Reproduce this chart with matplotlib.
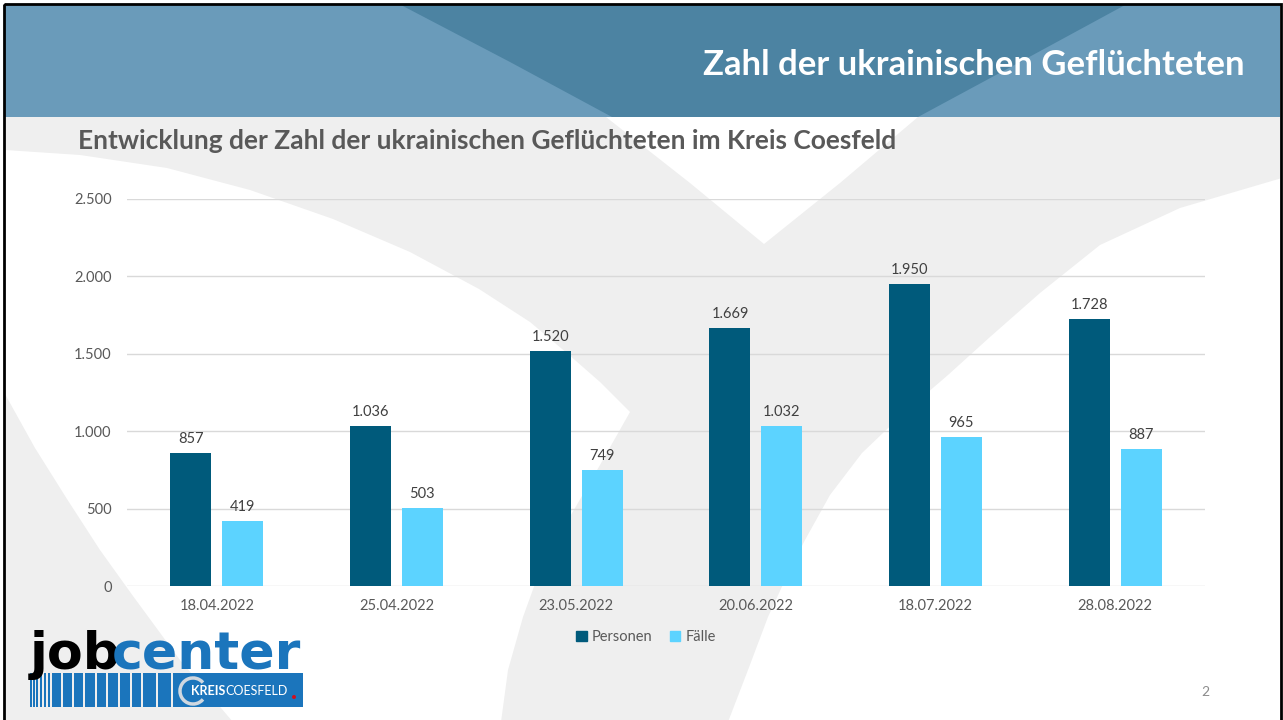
import matplotlib
matplotlib.use("Agg")
import matplotlib.pyplot as plt
from matplotlib.patches import Polygon, Rectangle, Patch, Arc, Circle
import numpy as np

# chart data
dates = ["18.04.2022", "25.04.2022", "23.05.2022", "20.06.2022", "18.07.2022", "28.08.2022"]
personen = [857, 1036, 1520, 1669, 1950, 1728]
faelle = [419, 503, 749, 1032, 965, 887]
y_ticks = [0, 500, 1000, 1500, 2000, 2500]
y_tick_labels = ["0", "500", "1.000", "1.500", "2.000", "2.500"]

header_title = "Zahl der ukrainischen Geflüchteten"
chart_title = "Entwicklung der Zahl der ukrainischen Geflüchteten im Kreis Coesfeld"

C_PERS = "#005A7B"
C_FAEL = "#5CD3FF"
C_HEAD_LIGHT = "#6A9BBA"
C_HEAD_DARK = "#4C83A2"
C_BG_GRAY = "#EFEFEF"
C_LOGO = "#1B75BC"

W, H = 1283, 720
fig = plt.figure(figsize=(W / 100, H / 100), dpi=100)
fig.patch.set_facecolor("white")

# background layer in pixel coordinates
bg = fig.add_axes([0, 0, 1, 1], zorder=0)
bg.set_xlim(0, W)
bg.set_ylim(H, 0)
bg.axis("off")

bg.add_patch(Rectangle((5, 117), 1275, 610, color=C_BG_GRAY, lw=0))

# white cut-outs of the big grey "V" in the slide background
left_white = [(5, 150), (80, 155), (167, 168), (250, 190), (333, 219), (410, 252),
              (479, 289), (530, 322), (568, 354), (600, 382), (630, 412),
              (600, 465), (568, 520), (540, 570), (523, 617), (508, 670), (501, 722),
              (233, 722), (180, 660), (133, 596), (100, 550), (67, 499), (35, 448), (5, 394)]
right_white = [(1282, 178), (1180, 208), (1100, 245), (1040, 293), (990, 337), (948, 375),
               (905, 412), (862, 453), (830, 495), (805, 540), (785, 580), (768, 617),
               (748, 670), (728, 722), (1282, 722)]
v_wedge = [(606, 117), (690, 183), (764, 244), (840, 183), (918, 117)]
for pts in (left_white, right_white, v_wedge):
    bg.add_patch(Polygon(pts, closed=True, color="white", lw=0))

# header band
bg.add_patch(Rectangle((5, 5), 1275, 112, color=C_HEAD_LIGHT, lw=0))
head_dark = [(401, 5), (510, 62), (612, 117), (918, 117), (1020, 62), (1125, 5)]
bg.add_patch(Polygon(head_dark, closed=True, color=C_HEAD_DARK, lw=0))

# slide frame
bg.add_patch(Rectangle((4, 4), 1277, 730, fill=False, ec="black", lw=2))

bg.text(1245, 75, header_title, color="white", fontsize=24.9, fontweight="bold",
        family="Lato", ha="right", va="baseline")
bg.text(78, 149, chart_title, color="#595959", fontsize=19, fontweight="bold",
        family="Lato", ha="left", va="baseline")
bg.text(1205, 692, "2", color="#8C8C8C", fontsize=10, family="Lato",
        ha="center", va="center")

# jobcenter logo
bg.text(30, 669, "job", color="black", fontsize=37.5, fontweight="heavy",
        family="DejaVu Sans", ha="left", va="baseline")
bg.text(112, 669, "center", color=C_LOGO, fontsize=37.5, fontweight="heavy",
        family="DejaVu Sans", ha="left", va="baseline")
stripes = [(30, 31.5), (33, 34.5), (36, 38), (39.5, 42), (43.5, 46), (47.5, 50),
           (51.5, 61), (62.5, 72), (73.5, 83), (84.5, 95), (96.5, 106), (107.5, 118),
           (119.5, 130), (131.5, 141), (142.5, 156), (157.5, 171)]
for x0, x1 in stripes:
    bg.add_patch(Rectangle((x0, 673), x1 - x0, 34, color=C_LOGO, lw=0))
bg.add_patch(Rectangle((173, 673), 130, 34, color=C_LOGO, lw=0))
bg.add_patch(Arc((193, 691), 26, 26, theta1=40, theta2=320, color="#D0D8E0", lw=2.5))
bg.text(191, 691, "KREIS", color="white", fontsize=9, fontweight="bold",
        family="Lato", ha="left", va="center")
bg.text(225, 691, "COESFELD", color="white", fontsize=9, family="Lato",
        ha="left", va="center")
bg.add_patch(Circle((294, 697), 2, color="#D01020", lw=0))

# chart
ax = fig.add_axes([127 / W, 1 - 586 / H, (1205 - 127) / W, (586 - 199) / H], zorder=2)
ax.patch.set_alpha(0)
x = np.arange(len(dates))
bw = 0.228
off = 0.144
b1 = ax.bar(x - off, personen, bw, color=C_PERS, label="Personen", zorder=3)
b2 = ax.bar(x + off, faelle, bw, color=C_FAEL, label="Fälle", zorder=3)

def de_fmt(v):
    return f"{v:,}".replace(",", ".")

for bars, vals in ((b1, personen), (b2, faelle)):
    for rect, v in zip(bars, vals):
        ax.annotate(de_fmt(v), (rect.get_x() + rect.get_width() / 2, v),
                    xytext=(0, 5), textcoords="offset points", ha="center",
                    va="bottom", fontsize=10.5, color="#404040", family="Lato")

ax.set_xlim(-0.5, len(dates) - 0.5)
ax.set_ylim(0, 2500)
ax.set_yticks(y_ticks)
ax.set_yticklabels(y_tick_labels)
ax.set_xticks(x)
ax.set_xticklabels(dates)
ax.tick_params(length=0, labelsize=10.5, labelcolor="#595959")
ax.tick_params(axis="y", pad=11)
ax.tick_params(axis="x", pad=9)
for lab in ax.get_xticklabels() + ax.get_yticklabels():
    lab.set_family("Lato")
for s in ax.spines.values():
    s.set_visible(False)
ax.yaxis.grid(True, color="#D9D9D9", lw=1, zorder=0)
ax.set_axisbelow(True)

handles = [Patch(color=C_PERS, label="Personen"), Patch(color=C_FAEL, label="Fälle")]
leg = ax.legend(handles=handles, loc="center", bbox_to_anchor=(646 / W, 1 - 637 / H),
                bbox_transform=fig.transFigure, ncol=2, frameon=False,
                handlelength=0.7, handleheight=0.7, handletextpad=0.35,
                columnspacing=1.2, prop={"family": "Lato", "size": 10.5})
for t in leg.get_texts():
    t.set_color("#595959")

fig.savefig("out.png", dpi=100)
